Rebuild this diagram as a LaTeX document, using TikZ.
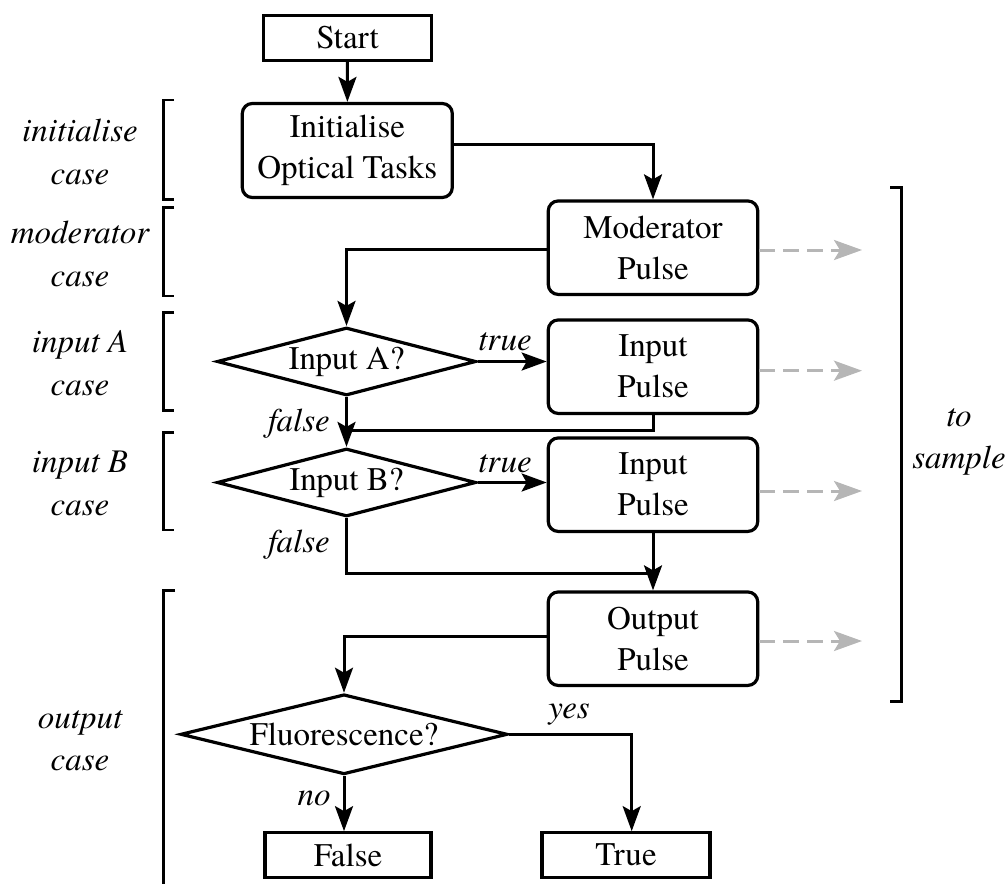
\documentclass[tikz,border=0pt]{standalone}
\usepackage{fontspec}
\setmainfont{TeX Gyre Termes}
\usetikzlibrary{arrows.meta,shapes.geometric,calc}
\definecolor{sampgray}{RGB}{182,182,182}
\begin{document}
\begin{tikzpicture}[x=1pt,y=-1pt,
  every node/.style={font=\fontsize{33}{41}\selectfont, inner sep=0pt},
  plain/.style={draw, line width=3.2pt, align=center},
  sqbox/.style={plain, minimum width=168pt, minimum height=44.5pt},
  rbox/.style={plain, rounded corners=10pt, minimum width=209.5pt, minimum height=93.5pt},
  dia/.style={plain, diamond},
  conn/.style={line width=3pt, -{Stealth[length=25pt,width=18pt,inset=5pt]}},
  joinline/.style={line width=3pt},
  samp/.style={line width=3pt, draw=sampgray, dash pattern=on 16pt off 8pt,
    -{Stealth[length=28pt,width=20pt,inset=6pt,fill=sampgray]}},
  brk/.style={line width=2.6pt},
  lbl/.style={font=\fontsize{33}{42.5}\selectfont\itshape, align=center},
  elbl/.style={font=\fontsize{33}{41}\selectfont\itshape},
]
\useasboundingbox (0,0) rectangle (1008,883);

% nodes
\node[sqbox] (start) at (347.5,38) {Start};
\node[rbox, minimum width=210pt, minimum height=94pt] (init) at (347.3,150.5) {Initialise\\Optical Tasks};
\node[rbox] (mod) at (653,247.7) {Moderator\\Pulse};
\node[rbox] (pa) at (653,366.7) {Input\\Pulse};
\node[rbox] (pb) at (653,484.7) {Input\\Pulse};
\node[rbox] (po) at (653,638.7) {Output\\Pulse};
\node[dia, aspect=3.7, minimum width=259pt, minimum height=68pt] (da) at (346.5,361.5) {Input A?};
\node[dia, aspect=3.7, minimum width=259pt, minimum height=68pt] (db) at (346.5,482.5) {Input B?};
\node[dia, aspect=4, minimum width=327pt, minimum height=80pt] (fl) at (344,734.3) {Fluorescence?};
\node[sqbox, minimum width=166pt] (f) at (348,855) {False};
\node[sqbox] (t) at (626,855) {True};

% coordinates
\coordinate (ja) at (346.5,430);
\coordinate (jb) at (653,573.3);
\coordinate (s1) at (862,250);
\coordinate (s2) at (862,370.7);
\coordinate (s3) at (862,491);
\coordinate (s4) at (862,641);

% connectors
\draw[conn] (start) -- (init);
\draw[conn] ([yshift=6.5pt]init.east) -| (mod.north);
\draw[conn] ([yshift=-1.6pt]mod.west) -| (da.north);
\draw[conn] (da.east) -- (da.east -| pa.west);
\draw[joinline] (pa.south) |- (ja);
\draw[conn] (da.south) -- (db.north);
\draw[conn] (db.east) -- (db.east -| pb.west);
\draw[joinline] (db.south) |- (jb);
\draw[conn] (pb.south) -- (po.north);
\draw[conn] ([yshift=2pt]po.west) -| (fl.north);
\draw[conn] (fl.south) -- (fl.south |- f.north);
\draw[conn] (fl.east) -| ([xshift=5.7pt]t.north);

% to sample arrows
\draw[samp] (mod.east |- s1) -- (s1);
\draw[samp] (pa.east |- s2) -- (s2);
\draw[samp] (pb.east |- s3) -- (s3);
\draw[samp] (po.east |- s4) -- (s4);

% edge labels
\node[elbl] (ta) at (505,341.7) {true};
\node[elbl] (fa) at (299,423.3) {false};
\node[elbl] (tb) at (505,463.3) {true};
\node[elbl] (fb) at (299,545) {false};
\node[elbl] (yes) at (569,714.7) {yes};
\node[elbl] (no) at (314,798) {no};

% case labels
\node[lbl] (l1) at (80,151.7) {initialise\\case};
\node[lbl] (l2) at (80,254) {moderator\\case};
\node[lbl] (l3) at (80,363.3) {input A\\case};
\node[lbl] (l4) at (80,483.3) {input B\\case};
\node[lbl] (l5) at (80,740.5) {output\\case};
\node[lbl] (l6) at (959,441.7) {to\\sample};

% brackets
\draw[brk] (174,100) -- (163.3,100) -- (163.3,199.3) -- (174,199.3);
\draw[brk] (174,207.3) -- (163.3,207.3) -- (163.3,296) -- (174,296);
\draw[brk] (174,312.7) -- (163.3,312.7) -- (163.3,410.7) -- (174,410.7);
\draw[brk] (174,432.7) -- (163.3,432.7) -- (163.3,530) -- (174,530);
\draw[brk] (175,590.3) -- (163.3,590.3) -- (163.3,895);
\draw[brk] (890,187.7) -- (901.7,187.7) -- (901.7,701.7) -- (890,701.7);
\end{tikzpicture}
\end{document}
